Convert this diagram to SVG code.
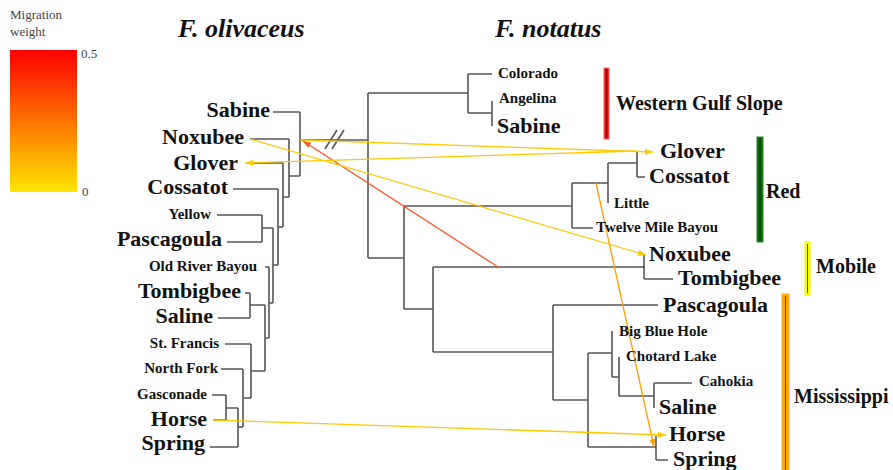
<svg xmlns="http://www.w3.org/2000/svg" width="893" height="470" viewBox="0 0 893 470">
<style>
text{font-family:'Liberation Serif','DejaVu Serif',serif;fill:#111;font-weight:bold}
.big{font-size:22px}
.sm{font-size:15px}
.cl{font-size:20px}
.hdr{font-size:26px;font-style:italic}
.l{text-anchor:end}
.leg{font-size:13px;font-weight:normal;fill:#444}
.tree{fill:none;stroke:#555;stroke-width:1.6}
.mig{fill:none;stroke-width:1.3}
.y{stroke:#ffc800}
.o{stroke:#ffa000}
.r{stroke:#ff5522}
</style>
<defs>
<linearGradient id="grad" x1="0" y1="0" x2="0" y2="1">
<stop offset="0" stop-color="#ff0000"/>
<stop offset="1" stop-color="#ffe600"/>
</linearGradient>
<marker id="ay" viewBox="0 0 8 6" refX="8" refY="3" markerWidth="8" markerHeight="6" markerUnits="userSpaceOnUse" orient="auto"><path d="M0,0 L8,3 L0,6 z" fill="#ffc800"/></marker>
<marker id="ao" viewBox="0 0 8 6" refX="8" refY="3" markerWidth="8" markerHeight="6" markerUnits="userSpaceOnUse" orient="auto"><path d="M0,0 L8,3 L0,6 z" fill="#ffa000"/></marker>
<marker id="ar" viewBox="0 0 8 6" refX="8" refY="3" markerWidth="8" markerHeight="6" markerUnits="userSpaceOnUse" orient="auto"><path d="M0,0 L8,3 L0,6 z" fill="#ff5522"/></marker>
</defs>
<rect width="893" height="470" fill="#fff"/>

<g id="legend">
<text class="leg" x="10" y="19">Migration</text>
<text class="leg" x="10" y="36">weight</text>
<rect x="10" y="50" width="67" height="142" fill="url(#grad)"/>
<text class="leg" x="81" y="58">0.5</text>
<text class="leg" x="82" y="196">0</text>
</g>

<g id="headers">
<text class="hdr" x="178" y="37">F. olivaceus</text>
<text class="hdr" x="495" y="37">F. notatus</text>
</g>

<g id="connectors">
<path class="tree" d="M273,112H300M250,139H289M252,163H283M233,189H278M217,215H262M227,242H262M265,267H269M245,293H250M218,318H250M225,344H251M221,369H243M212,395H226M213,420H226M210,447H238
M226,395V420M226,408H238M238,408V447M238,427H243M243,369V427M243,398H251M251,344V398M251,371H265M250,293V318M250,305H265M265,305V371M265,338H269M269,267V338M269,303H273M262,215V242M262,228H273M273,228V303M273,265H278M278,189V265M278,227H283M283,163V227M283,197H289M289,139V197M289,176H300M300,112V176M300,140H368"/>
<path class="tree" d="M325,149L337,130M332,149L344,130"/>
<path class="tree" d="M368,93V258M368,93H468M468,74V113M468,74H492M468,113H492M492,101V126
M368,258H404M404,206V309M404,206H572M572,183V228M572,228H593M572,183H608M608,163V203M608,163H637M637,152V177M637,177H645
M404,309H433M433,267V352M433,267H644M644,254V279M644,279H673
M433,352H553M553,305V400M553,305H658M553,400H588M588,353V447M588,353H612M612,331V377M612,377H619M619,357V396M619,396H654M654,383V408M654,383H692M588,447H656M656,436V460M656,460H668"/>
<path class="mig r" d="M498,267L303,141" marker-end="url(#ar)"/>
<path class="mig y" d="M300,140L653,152" marker-end="url(#ay)"/>
<path class="mig y" d="M637,151L245,163" marker-end="url(#ay)"/>
<path class="mig y" d="M250,139L646,255" marker-end="url(#ay)"/>
<path class="mig o" d="M596,183L654,447" marker-end="url(#ao)"/>
<path class="mig y" d="M213,420L666,435" marker-end="url(#ay)"/>
</g>

<g id="olivaceus-leaves">
<g id="L-Sabine"><text class="big l" x="270" y="117">Sabine</text></g>
<g id="L-Noxubee"><text class="big l" x="244" y="144">Noxubee</text></g>
<g id="L-Glover"><text class="big l" x="238" y="170">Glover</text></g>
<g id="L-Cossatot"><text class="big l" x="228" y="194">Cossatot</text></g>
<g id="L-Yellow"><text class="sm l" x="211" y="219">Yellow</text></g>
<g id="L-Pascagoula"><text class="big l" x="222" y="246">Pascagoula</text></g>
<g id="L-OldRiverBayou"><text class="sm l" x="257" y="271">Old River Bayou</text></g>
<g id="L-Tombigbee"><text class="big l" x="241" y="298">Tombigbee</text></g>
<g id="L-Saline"><text class="big l" x="213" y="323">Saline</text></g>
<g id="L-StFrancis"><text class="sm l" x="219" y="348">St. Francis</text></g>
<g id="L-NorthFork"><text class="sm l" x="218" y="373">North Fork</text></g>
<g id="L-Gasconade"><text class="sm l" x="207" y="399">Gasconade</text></g>
<g id="L-Horse"><text class="big l" x="207" y="426">Horse</text></g>
<g id="L-Spring"><text class="big l" x="205" y="450">Spring</text></g>
</g>

<g id="notatus-leaves">
<g id="R-Colorado"><text class="sm" x="498" y="78">Colorado</text></g>
<g id="R-Angelina"><text class="sm" x="499" y="103">Angelina</text></g>
<g id="R-Sabine"><text class="big" x="497" y="133">Sabine</text></g>
<g id="R-Glover"><text class="big" x="660" y="158">Glover</text></g>
<g id="R-Cossatot"><text class="big" x="649" y="183">Cossatot</text></g>
<g id="R-Little"><text class="sm" x="614" y="208">Little</text></g>
<g id="R-TwelveMileBayou"><text class="sm" x="596" y="232">Twelve Mile Bayou</text></g>
<g id="R-Noxubee"><text class="big" x="649" y="261">Noxubee</text></g>
<g id="R-Tombigbee"><text class="big" x="678" y="285">Tombigbee</text></g>
<g id="R-Pascagoula"><text class="big" x="663" y="312">Pascagoula</text></g>
<g id="R-BigBlueHole"><text class="sm" x="619" y="336">Big Blue Hole</text></g>
<g id="R-ChotardLake"><text class="sm" x="626" y="361">Chotard Lake</text></g>
<g id="R-Cahokia"><text class="sm" x="699" y="386">Cahokia</text></g>
<g id="R-Saline"><text class="big" x="659" y="414">Saline</text></g>
<g id="R-Horse"><text class="big" x="669" y="441">Horse</text></g>
<g id="R-Spring"><text class="big" x="673" y="466">Spring</text></g>
</g>

<g id="clade-WesternGulfSlope">
<rect x="604" y="68" width="5" height="71" fill="#ee0000" stroke="#ff6a6a" stroke-width="1"/>
<line x1="606.5" y1="69" x2="606.5" y2="138" stroke="#a00000" stroke-width="1"/>
<text class="cl" x="616" y="110">Western Gulf Slope</text>
</g>
<g id="clade-Red">
<rect x="757" y="137" width="6" height="105" fill="#0a6a0a" stroke="#2a8a2a" stroke-width="1"/>
<line x1="760" y1="138" x2="760" y2="241" stroke="#003000" stroke-width="1"/>
<text class="cl" x="766" y="198">Red</text>
</g>
<g id="clade-Mobile">
<rect x="805" y="242" width="5" height="53" fill="#ffff00" stroke="#f0f000" stroke-width="1"/>
<line x1="807.5" y1="244" x2="807.5" y2="293" stroke="#555500" stroke-width="1"/>
<text class="cl" x="816" y="273">Mobile</text>
</g>
<g id="clade-Mississippi">
<rect x="782" y="294" width="7" height="176" fill="#ffa500" stroke="#ffb020" stroke-width="1"/>
<line x1="785.5" y1="296" x2="785.5" y2="470" stroke="#704000" stroke-width="1"/>
<text class="cl" x="794" y="403">Mississippi</text>
</g>
</svg>
